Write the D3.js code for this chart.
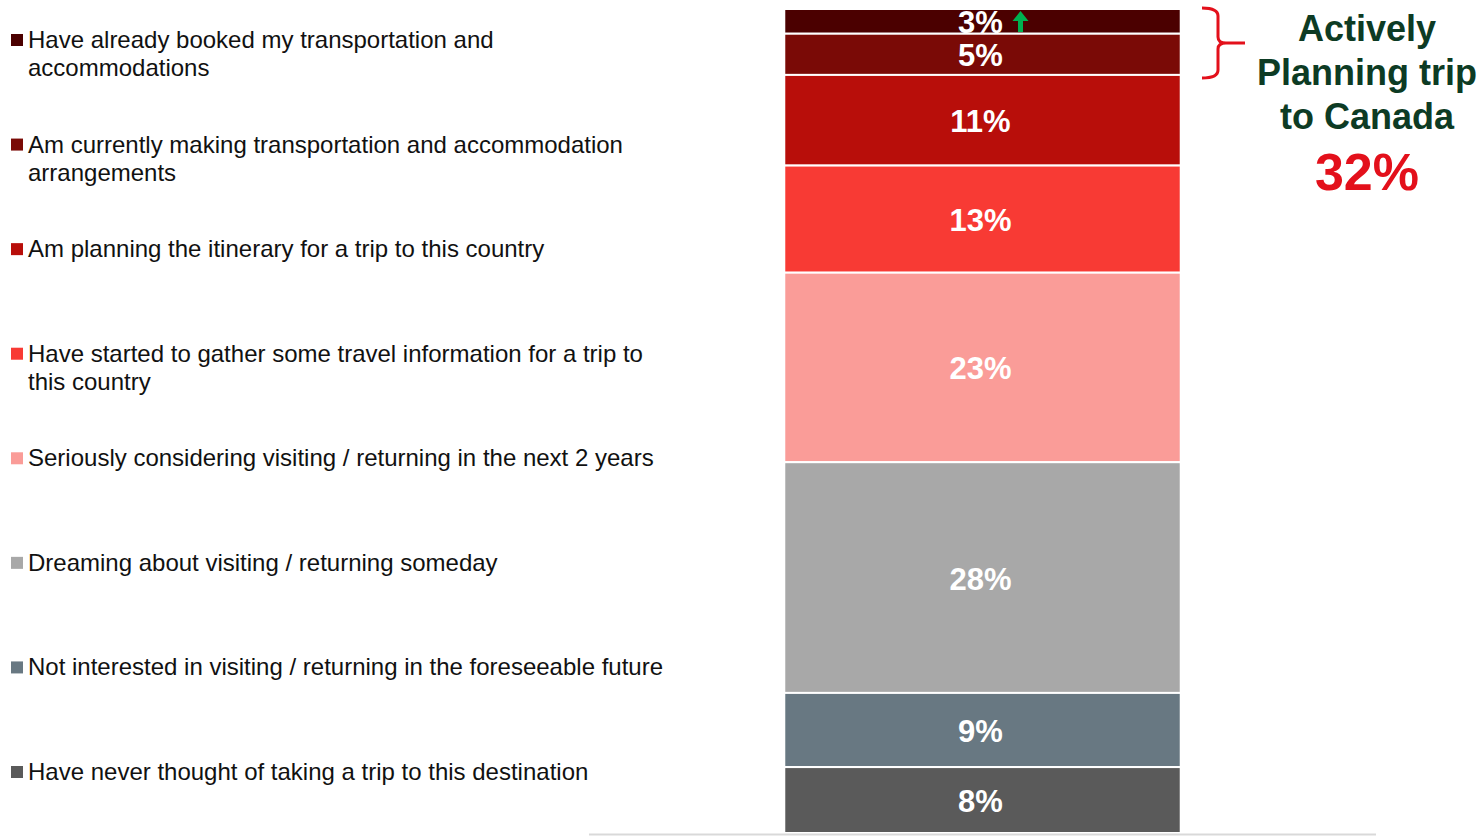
<!DOCTYPE html>
<html>
<head>
<meta charset="utf-8">
<script src="https://cdn.jsdelivr.net/npm/d3@7"></script>
<style>
  body { margin: 0; background: #fff; }
  text { font-family: Arial, "Liberation Sans", sans-serif; }
</style>
</head>
<body>
<script>
// chart size
var w = 1484;
var h = 837;

// stages, top of the bar first
var stages = [
  "Have already booked my transportation and\naccommodations",
  "Am currently making transportation and accommodation\narrangements",
  "Am planning the itinerary for a trip to this country",
  "Have started to gather some travel information for a trip to\nthis country",
  "Seriously considering visiting / returning in the next 2 years",
  "Dreaming about visiting / returning someday",
  "Not interested in visiting / returning in the foreseeable future",
  "Have never thought of taking a trip to this destination"
];
var shares = [3, 5, 11, 13, 23, 28, 9, 8];
var colors = ["#4b0000", "#7a0a06", "#b80e0a", "#f83a34", "#fa9c98", "#a8a8a8", "#687882", "#5a5a5a"];
var category = ["Canada"];
var planningTotal = 32;
var planningText = ["Actively", "Planning trip", "to Canada"];

var svg = d3.select("body").append("svg")
  .attr("width", w)
  .attr("height", h);

// scales
var x = d3.scaleBand().domain(category).range([589, 1376]).padding(0.33);
var y = d3.scaleLinear().domain([0, 100]).range([9, 833]);
var legendY = d3.scalePoint().domain(stages).range([40, 772]);

// cumulative starts from the top
var segs = [];
var acc = 0;
stages.forEach(function(s, i) {
  segs.push({ name: s, v: shares[i], y0: acc, y1: acc + shares[i], c: colors[i] });
  acc += shares[i];
});

// bar segments
svg.selectAll("rect.seg")
  .data(segs)
  .enter()
  .append("rect")
  .attr("class", "seg")
  .attr("x", x("Canada"))
  .attr("width", x.bandwidth())
  .attr("y", function(d) { return y(d.y0); })
  .attr("height", function(d) { return y(d.y1) - y(d.y0); })
  .attr("fill", function(d) { return d.c; })
  .attr("stroke", "#fff")
  .attr("stroke-width", 2);

// value labels
svg.selectAll("text.val")
  .data(segs)
  .enter()
  .append("text")
  .attr("class", "val")
  .attr("x", x("Canada") + x.bandwidth() / 2 - 2)
  .attr("y", function(d) { return (y(d.y0) + y(d.y1)) / 2 + 12; })
  .attr("text-anchor", "middle")
  .attr("fill", "#fff")
  .attr("font-weight", "bold")
  .attr("font-size", 31)
  .text(function(d) { return d.v + "%"; });

// green up arrow next to the top value
var ax = x("Canada") + x.bandwidth() / 2 + 38;
var ay = y(0);
svg.append("path")
  .attr("d", "M" + ax + "," + (ay + 2) + " l8,10 h-5.5 v11 h-5 v-11 h-5.5 z")
  .attr("fill", "#00b050");

// baseline
svg.append("line")
  .attr("x1", x.range()[0]).attr("x2", x.range()[1])
  .attr("y1", y(100) + 1.5).attr("y2", y(100) + 1.5)
  .attr("stroke", "#d9d9d9")
  .attr("stroke-width", 2);

// legend
var leg = svg.selectAll("g.leg")
  .data(segs)
  .enter()
  .append("g")
  .attr("class", "leg")
  .attr("transform", function(d) { return "translate(0," + legendY(d.name) + ")"; });

leg.append("rect")
  .attr("x", 11).attr("y", -6)
  .attr("width", 12).attr("height", 12)
  .attr("fill", function(d) { return d.c; });

leg.append("text")
  .attr("x", 28)
  .attr("font-size", 24)
  .attr("fill", "#111")
  .selectAll("tspan")
  .data(function(d) { return d.name.split("\n"); })
  .enter()
  .append("tspan")
  .attr("x", 28)
  .attr("y", function(d, i) { return 8 + i * 28; })
  .text(function(d) { return d; });

// brace around the planning segments
var bt = y(0) - 1, bb = y(shares[0] + shares[1]) + 3;
var bm = (bt + bb) / 2;
svg.append("path")
  .attr("d", "M1202," + bt + " Q1218," + bt + " 1218," + (bt + 8) +
    " L1218," + (bm - 6) + " Q1218," + bm + " 1226," + bm + " L1245," + bm +
    " M1226," + bm + " Q1218," + bm + " 1218," + (bm + 6) +
    " L1218," + (bb - 8) + " Q1218," + bb + " 1202," + bb)
  .attr("fill", "none")
  .attr("stroke", "#e3101b")
  .attr("stroke-width", 3);

// annotation text
svg.selectAll("text.plan")
  .data(planningText)
  .enter()
  .append("text")
  .attr("class", "plan")
  .attr("x", 1367)
  .attr("y", function(d, i) { return 41 + i * 44; })
  .attr("text-anchor", "middle")
  .attr("font-weight", "bold")
  .attr("font-size", 36)
  .attr("fill", "#0d3b24")
  .text(function(d) { return d; });

svg.append("text")
  .attr("x", 1367)
  .attr("y", 190)
  .attr("text-anchor", "middle")
  .attr("font-weight", "bold")
  .attr("font-size", 52)
  .attr("fill", "#e3101b")
  .text(planningTotal + "%");
</script>
</body>
</html>
